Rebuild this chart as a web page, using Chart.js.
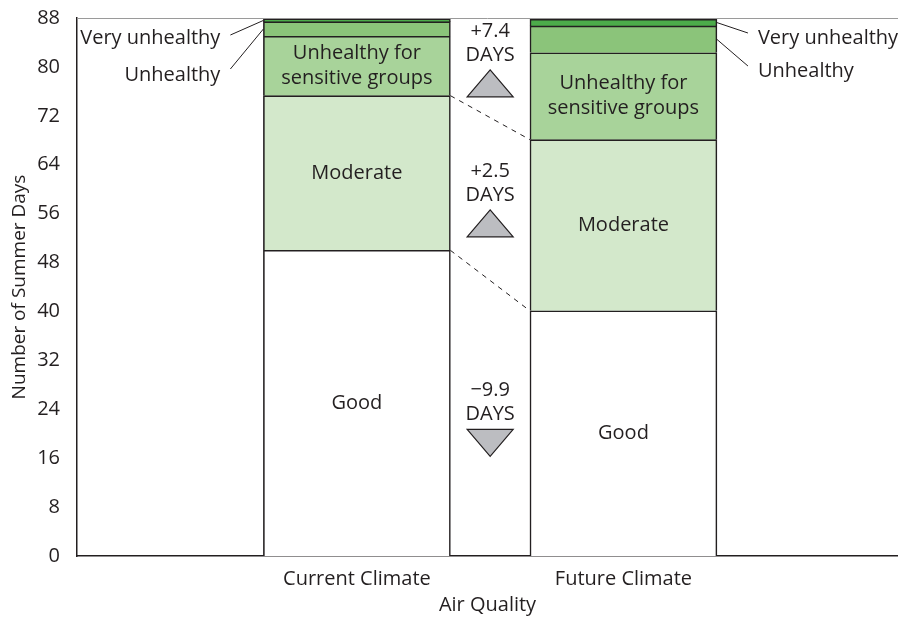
<!DOCTYPE html>
<html>
<head>
<meta charset="utf-8">
<script src="https://cdn.jsdelivr.net/npm/chart.js@4.4.1/dist/chart.umd.min.js"></script>
<style>
  html, body { margin: 0; padding: 0; background: #fff; }
  #wrap { width: 898px; height: 619px; position: relative; }
</style>
</head>
<body>
<div id="wrap"><canvas id="airChart"></canvas></div>
<script>
// Chart data
const categories = ['Current Climate', 'Future Climate'];
const levels = ['Good', 'Moderate', 'Unhealthy for sensitive groups', 'Unhealthy', 'Very unhealthy'];
const levelLines = [['Good'], ['Moderate'], ['Unhealthy for', 'sensitive groups'], [], []];
const currentDays = [50.0, 25.3, 9.7, 2.4, 0.4];
const futureDays = [40.1, 28.0, 14.2, 4.4, 1.1];
const levelColors = ['#ffffff', '#d3e8cb', '#a8d39a', '#8bc47a', '#4cac4a'];
const changeLabels = ['+7.4', '+2.5', '\u22129.9'];
const changeUp = [true, true, false];
const changeAt = [85.9, 63.0, 27.1]; // y value of the number line
const yMax = 88;
const yStep = 8;

const ink = '#231f20';
const font = 'Open Sans';
const fs = 20;

// one dataset per air quality level, stacked
const datasets = levels.map((lvl, i) => ({
    label: lvl,
    data: [
        { x: 1, y: currentDays[i] },
        { x: 2, y: futureDays[i] }
    ],
    backgroundColor: levelColors[i],
    borderColor: ink,
    borderWidth: 1.6,
    borderSkipped: 'start',
    barThickness: 187
}));

// labels, leader lines, dashed links and change arrows
const annotate = {
    id: 'annotate',
    afterDatasetsDraw(chart) {
        const ctx = chart.ctx;
        const y = chart.scales.y;
        const area = chart.chartArea;
        const bar = (ds, i) => chart.getDatasetMeta(ds).data[i];

        ctx.save();
        // top frame line
        ctx.strokeStyle = '#9a9a9a';
        ctx.lineWidth = 1;
        ctx.beginPath();
        ctx.moveTo(area.left, area.top + 0.5);
        ctx.lineTo(area.right, area.top + 0.5);
        ctx.stroke();

        ctx.fillStyle = ink;
        ctx.font = fs + 'px "' + font + '"';
        ctx.textAlign = 'center';
        ctx.textBaseline = 'middle';

        // text inside segments
        levels.forEach((lvl, d) => {
            const lines = levelLines[d];
            if (!lines.length) return;
            categories.forEach((c, i) => {
                const el = bar(d, i);
                const cy = (el.y + el.base) / 2;
                lines.forEach((t, k) => {
                    ctx.fillText(t, el.x, cy + (k - (lines.length - 1) / 2) * 25);
                });
            });
        });

        // leader labels for the two thin top levels
        ctx.strokeStyle = ink;
        ctx.lineWidth = 1;
        const leaders = [
            { d: 4, ty: 20, ry: 20 },
            { d: 3, ty: 57, ry: 53 }
        ];
        leaders.forEach(l => {
            const a = bar(l.d, 0);
            const ay = (a.y + a.base) / 2;
            const lx = a.x - a.width / 2;
            ctx.textAlign = 'right';
            ctx.fillText(levels[l.d], lx - 43, area.top + l.ty);
            ctx.beginPath();
            ctx.moveTo(lx - 33, area.top + l.ty + (l.d === 4 ? -3 : -6));
            ctx.lineTo(lx, ay);
            ctx.stroke();

            const b = bar(l.d, 1);
            const by = (b.y + b.base) / 2;
            const rx = b.x + b.width / 2;
            ctx.textAlign = 'left';
            ctx.fillText(levels[l.d], rx + 41, area.top + l.ry);
            ctx.beginPath();
            ctx.moveTo(rx, by);
            ctx.lineTo(rx + 31, area.top + l.ry - 5);
            ctx.stroke();
        });

        // dashed links between level boundaries
        ctx.setLineDash([5, 5]);
        [0, 1].forEach(d => {
            const a = bar(d, 0);
            const b = bar(d, 1);
            ctx.beginPath();
            ctx.moveTo(a.x + a.width / 2, a.y);
            ctx.lineTo(b.x - b.width / 2, b.y);
            ctx.stroke();
        });
        ctx.setLineDash([]);

        // change labels with triangles
        const mid = (bar(0, 0).x + bar(0, 1).x) / 2;
        ctx.textAlign = 'center';
        changeLabels.forEach((t, k) => {
            const ty = y.getPixelForValue(changeAt[k]);
            ctx.fillStyle = ink;
            ctx.fillText(t, mid, ty);
            ctx.fillText('DAYS', mid, ty + 24);
            const top = ty + 39, bot = ty + 66, hw = 23;
            ctx.beginPath();
            if (changeUp[k]) {
                ctx.moveTo(mid, top);
                ctx.lineTo(mid + hw, bot);
                ctx.lineTo(mid - hw, bot);
            } else {
                ctx.moveTo(mid - hw, top);
                ctx.lineTo(mid + hw, top);
                ctx.lineTo(mid, bot);
            }
            ctx.closePath();
            ctx.fillStyle = '#bcbdc1';
            ctx.fill();
            ctx.strokeStyle = ink;
            ctx.lineWidth = 1.2;
            ctx.stroke();
        });
        ctx.restore();
    }
};

new Chart(document.getElementById('airChart').getContext('2d'), {
    type: 'bar',
    data: { datasets },
    options: {
        responsive: true,
        maintainAspectRatio: false,
        animation: false,
        layout: { padding: { top: 18, right: 0, left: 0, bottom: 0 } },
        plugins: {
            legend: { display: false },
            tooltip: { enabled: false }
        },
        scales: {
            x: {
                type: 'linear',
                stacked: true,
                offset: false,
                min: -0.05,
                max: 3.03,
                grid: { display: false },
                border: { display: true, color: ink, width: 1.5 },
                afterBuildTicks: scale => {
                    scale.ticks = categories.map((c, i) => ({ value: i + 1 }));
                },
                afterFit: scale => { scale.height = 63; },
                ticks: {
                    color: ink,
                    font: { family: font, size: fs },
                    padding: 3,
                    maxRotation: 0,
                    callback: v => categories[v - 1]
                },
                title: {
                    display: true,
                    text: 'Air Quality',
                    color: ink,
                    font: { family: font, size: fs },
                    padding: { top: 0, bottom: 2 }
                }
            },
            y: {
                stacked: true,
                min: 0,
                max: yMax,
                grid: { display: false },
                border: { display: true, color: ink, width: 1.5 },
                afterFit: scale => {
                    scale.width = 77;
                    scale.paddingTop = 0;
                    scale.paddingBottom = 0;
                },
                ticks: {
                    stepSize: yStep,
                    color: ink,
                    font: { family: font, size: fs },
                    padding: 9
                },
                title: {
                    display: true,
                    text: 'Number of Summer Days',
                    color: ink,
                    font: { family: font, size: 19 },
                    padding: { top: 8, bottom: 0 }
                }
            }
        }
    },
    plugins: [annotate]
});
</script>
</body>
</html>
